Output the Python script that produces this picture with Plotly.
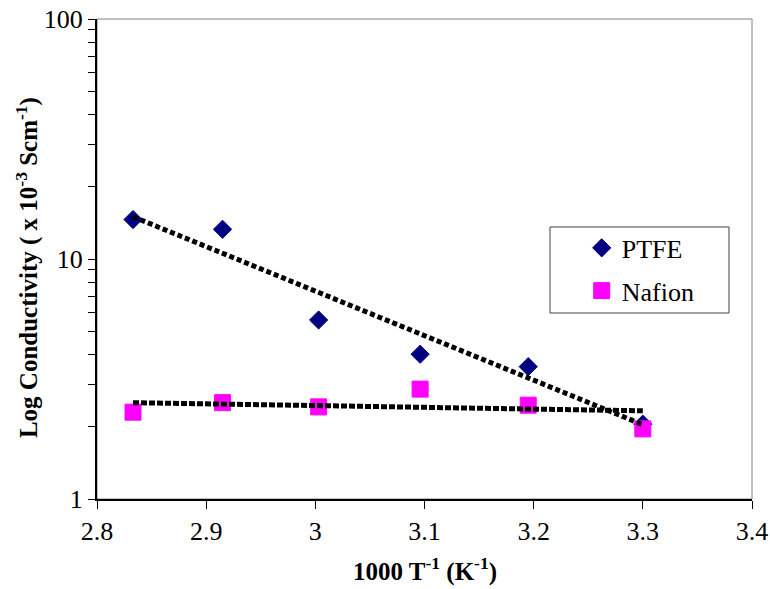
import plotly.graph_objects as go

# ---- data ----
inv_temp = [2.833, 2.915, 3.003, 3.096, 3.195, 3.300]          # 1000/T (K^-1)
ptfe = [14.6, 13.3, 5.57, 4.01, 3.56, 2.05]                     # x 10^-3 S/cm
nafion = [2.30, 2.52, 2.42, 2.87, 2.46, 1.96]

trend_x = [2.833, 3.300]
ptfe_trend = [15.0, 2.04]
nafion_trend = [2.52, 2.33]

x_ticks = [2.8, 2.9, 3.0, 3.1, 3.2, 3.3, 3.4]
x_tick_labels = ["2.8", "2.9", "3", "3.1", "3.2", "3.3", "3.4"]
y_ticks = [1, 10, 100]
y_tick_labels = ["1", "10", "100"]
y_minor_ticks = [2, 3, 4, 5, 6, 7, 8, 9, 20, 30, 40, 50, 60, 70, 80, 90]

FONT = "Liberation Serif"

fig = go.Figure()
fig.add_trace(go.Scatter(
    x=inv_temp, y=ptfe, mode="markers", name="PTFE", legendgroup="a",
    marker=dict(symbol="diamond", size=14, color="#000080",
                line=dict(color="#000080", width=1))))
fig.add_trace(go.Scatter(
    x=inv_temp, y=nafion, mode="markers", name="Nafion", legendgroup="b",
    marker=dict(symbol="square", size=16, color="#FF00FF",
                line=dict(color="#FF00FF", width=1))))
fig.add_trace(go.Scatter(
    x=trend_x, y=ptfe_trend, mode="lines", showlegend=False, hoverinfo="skip",
    line=dict(color="black", width=5, dash="5px,3px")))
fig.add_trace(go.Scatter(
    x=trend_x, y=nafion_trend, mode="lines", showlegend=False, hoverinfo="skip",
    line=dict(color="black", width=5, dash="6px,2px")))

fig.update_layout(
    width=770, height=589,
    margin=dict(l=97, r=18, t=19, b=90, autoexpand=False),
    paper_bgcolor="white", plot_bgcolor="white",
    font=dict(family=FONT, size=26, color="black"),
    showlegend=True,
    legend=dict(x=0.74, y=0.572, xanchor="left", yanchor="top",
                bgcolor="rgba(0,0,0,0)", borderwidth=0,
                font=dict(family=FONT, size=26, color="black"),
                tracegroupgap=6),
    xaxis=dict(range=[2.8, 3.4], tickvals=x_ticks, ticktext=x_tick_labels,
               ticks="outside", ticklen=8, tickwidth=1, tickcolor="black",
               showline=True, linecolor="black", linewidth=2,
               showgrid=False, zeroline=False, automargin=False,
               tickfont=dict(family=FONT, size=26, color="black")),
    yaxis=dict(type="log", range=[0, 2], tickvals=y_ticks, ticktext=y_tick_labels,
               ticks="outside", ticklen=7, tickwidth=1, tickcolor="black",
               minor=dict(tickmode="array", tickvals=y_minor_ticks,
                          ticks="outside", ticklen=7, tickwidth=1,
                          tickcolor="black", showgrid=False),
               showline=True, linecolor="black", linewidth=2,
               showgrid=False, zeroline=False, automargin=False,
               tickfont=dict(family=FONT, size=26, color="black")),
    yaxis2=dict(type="log", range=[0, 2], overlaying="y", side="left",
                tickvals=y_ticks, ticks="inside", ticklen=7, tickwidth=1,
                tickcolor="black", showticklabels=False, automargin=False,
                minor=dict(tickmode="array", tickvals=y_minor_ticks,
                           ticks="inside", ticklen=7, tickwidth=1,
                           tickcolor="black", showgrid=False),
                showline=False, showgrid=False, zeroline=False),
    shapes=[
        dict(type="rect", xref="paper", yref="paper", x0=0, x1=1, y0=0, y1=1,
             line=dict(color="#808080", width=1), layer="below"),
        dict(type="rect", xref="paper", yref="paper",
             x0=0.6916, x1=0.9649, y0=0.3875, y1=0.5667,
             line=dict(color="#404040", width=1), layer="above"),
    ],
    annotations=[
        dict(text="<b>1000 T<sup>-1</sup> (K<sup>-1</sup>)</b>", xref="paper", yref="paper",
             x=0.5, y=-0.146, xanchor="center", yanchor="middle", showarrow=False,
             font=dict(family=FONT, size=25, color="black")),
        dict(text="<b>Log Conductivity ( x 10<sup>-3</sup> Scm<sup>-1</sup>)</b>",
             xref="paper", yref="paper", textangle=-90,
             x=-0.107, y=0.483, xanchor="center", yanchor="middle", showarrow=False,
             font=dict(family=FONT, size=25, color="black")),
    ],
)

fig.write_html("out.html")
